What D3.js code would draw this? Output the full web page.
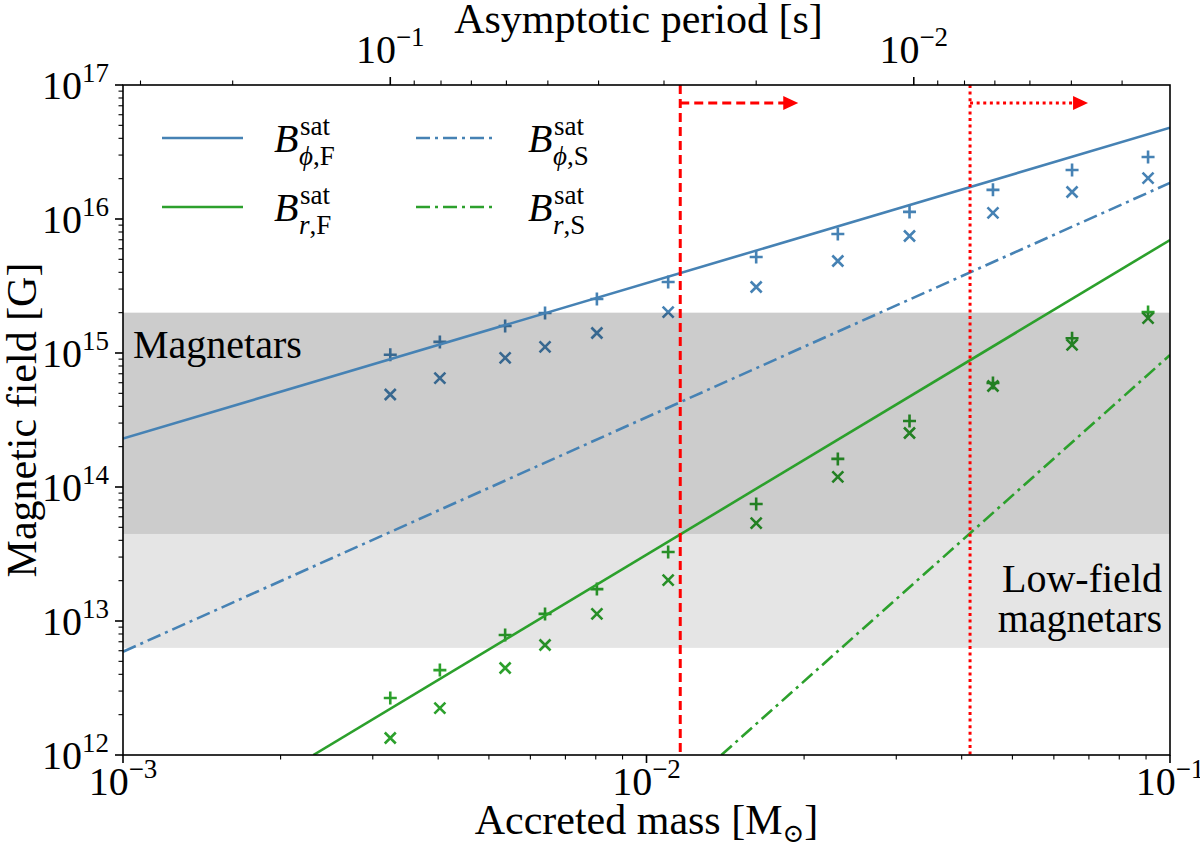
<!DOCTYPE html>
<html><head><meta charset="utf-8">
<script src="https://cdn.jsdelivr.net/npm/d3@7"></script>
<style>
body{margin:0;background:#fff}
svg{display:block}
</style>
</head><body><svg id="chart" width="1200" height="849"></svg>
<script>
// ---------------- data ----------------
const accretedMass = [0.00324,0.00403,0.00537,0.0064,0.00804,0.011,0.0162,0.0232,0.0318,0.0459,0.065,0.0908];
const bPhiPlus  = [9.7e14,1.21e15,1.59e15,1.99e15,2.53e15,3.39e15,5.2e15,7.73e15,1.13e16,1.65e16,2.32e16,2.9e16];
const bPhiCross = [4.9e14,6.5e14,9.2e14,1.11e15,1.41e15,2.02e15,3.11e15,4.86e15,7.47e15,1.11e16,1.59e16,2.02e16];
const bRPlus    = [2.66e12,4.3e12,7.87e12,1.13e13,1.73e13,3.27e13,7.46e13,1.62e14,3.11e14,5.97e14,1.29e15,2.02e15];
const bRCross   = [1.34e12,2.24e12,4.46e12,6.62e12,1.13e13,2.02e13,5.38e13,1.19e14,2.53e14,5.67e14,1.15e15,1.82e15];

// saturation lines: [mass, field] end points
const linePhiF = [[1e-3,2.3e14],[1e-1,4.8e16]];
const linePhiS = [[1e-3,5.9e12],[1e-1,1.86e16]];
const lineRF   = [[2.31e-3,1e12],[1e-1,6.97e15]];
const lineRS   = [[1.39e-2,1e12],[1e-1,9.66e14]];

// shaded bands [low, high]
const magnetarBand = [4.46e13, 2e15];
const lowFieldBand = [6.3e12, 4.46e13];

// threshold masses (dashed, dotted)
const thresholdMass = [0.0116, 0.0415];

// axes
const massDomain = [1e-3, 1e-1];
const fieldDomain = [1e12, 1e17];
const massMajor = [1e-3, 1e-2, 1e-1];
const massMajorExp = ["−3", "−2", "−1"];
const fieldMajor = [1e12, 1e13, 1e14, 1e15, 1e16, 1e17];
const fieldMajorExp = ["12", "13", "14", "15", "16", "17"];
const periodConst = 3.24e-4;      // P = periodConst / M
const periodMajor = [1e-1, 1e-2];
const periodMajorExp = ["−1", "−2"];

// legend
const legendEntries = [
  {sub:["ϕ",",F"], color:"#4682b4", dash:null},
  {sub:["r",",F"], color:"#2ca02c", dash:null},
  {sub:["ϕ",",S"], color:"#4682b4", dash:"14,5,3,5"},
  {sub:["r",",S"], color:"#2ca02c", dash:"14,5,3,5"}
];

// ---------------- layout ----------------
const L = 123, R = 1170, T = 85, B = 755;
const blue = "#4682b4", green = "#2ca02c", red = "#ff0000";
const FONT = "'Liberation Serif', 'Times New Roman', 'DejaVu Serif', serif";

const svg = d3.select("#chart").attr("font-family", FONT);
const x = d3.scaleLog().domain(massDomain).range([L, R]);
const y = d3.scaleLog().domain(fieldDomain).range([B, T]);
const xp = d3.scaleLog().domain([periodConst/massDomain[0], periodConst/massDomain[1]]).range([L, R]);

svg.append("defs").append("clipPath").attr("id","clip")
  .append("rect").attr("x",L).attr("y",T).attr("width",R-L).attr("height",B-T);

const plot = svg.append("g").attr("clip-path","url(#clip)");

// markers (drawn below bands)
const plusPath = "M-6.5,0H6.5M0,-6.5V6.5";
const crossPath = "M-5.5,-5.5L5.5,5.5M-5.5,5.5L5.5,-5.5";
function markers(vals, color, path){
  plot.append("g").selectAll("path").data(vals).join("path")
    .attr("transform",(d,i)=>`translate(${x(accretedMass[i])},${y(d)})`)
    .attr("d",path).attr("stroke",color).attr("stroke-width",2.6).attr("fill","none");
}
markers(bPhiPlus, blue, plusPath);
markers(bPhiCross, blue, crossPath);
markers(bRPlus, green, plusPath);
markers(bRCross, green, crossPath);

// bands (semi-transparent black over markers)
plot.append("rect").attr("x",L).attr("width",R-L)
  .attr("y",y(magnetarBand[1])).attr("height",y(magnetarBand[0])-y(magnetarBand[1]))
  .attr("fill","#000").attr("fill-opacity",0.2);
plot.append("rect").attr("x",L).attr("width",R-L)
  .attr("y",y(lowFieldBand[1])).attr("height",y(lowFieldBand[0])-y(lowFieldBand[1]))
  .attr("fill","#000").attr("fill-opacity",0.1);

// lines
const lineGen = d3.line().x(d=>x(d[0])).y(d=>y(d[1]));
function drawLine(data,color,dash){
  plot.append("path").datum(data).attr("d",lineGen).attr("fill","none")
    .attr("stroke",color).attr("stroke-width",2.6).attr("stroke-dasharray",dash);
}
drawLine(linePhiF, blue, null);
drawLine(linePhiS, blue, "14,5,3,5");
drawLine(lineRF, green, null);
drawLine(lineRS, green, "14,5,3,5");

// thresholds
const thrDash = ["9,5", "3,3.6"];
thresholdMass.forEach((m,i)=>{
  const xv = x(m);
  plot.append("line").attr("x1",xv).attr("x2",xv).attr("y1",T).attr("y2",B)
    .attr("stroke",red).attr("stroke-width",3).attr("stroke-dasharray",thrDash[i]);
  const ay = 103, tip = xv + 118;
  svg.append("line").attr("x1",xv).attr("x2",tip-13).attr("y1",ay).attr("y2",ay)
    .attr("stroke",red).attr("stroke-width",3).attr("stroke-dasharray",thrDash[i]);
  svg.append("path").attr("d",`M${tip},${ay}L${tip-15},${ay-7}L${tip-15},${ay+7}Z`).attr("fill",red);
});

// band labels
svg.append("text").attr("x",133).attr("y",358).attr("font-size",40).text("Magnetars");
svg.append("text").attr("x",1162).attr("y",592).attr("font-size",40).attr("text-anchor","end").text("Low-field");
svg.append("text").attr("x",1162).attr("y",632).attr("font-size",40).attr("text-anchor","end").text("magnetars");

// frame
svg.append("rect").attr("x",L).attr("y",T).attr("width",R-L).attr("height",B-T)
  .attr("fill","none").attr("stroke","#000").attr("stroke-width",1.6);

// ticks
function minorTicks(lo, hi){
  const out=[];
  for(let e=Math.floor(Math.log10(lo))-1; e<=Math.ceil(Math.log10(hi)); e++){
    for(let k=2;k<=9;k++){ const v=k*Math.pow(10,e); if(v>lo*1.0001 && v<hi*0.9999) out.push(v); }
  }
  return out;
}
const tk = svg.append("g").attr("stroke","#000");
massMajor.forEach(v=>tk.append("line").attr("x1",x(v)).attr("x2",x(v)).attr("y1",B).attr("y2",B+8).attr("stroke-width",1.6));
minorTicks(massDomain[0],massDomain[1]).forEach(v=>tk.append("line").attr("x1",x(v)).attr("x2",x(v)).attr("y1",B).attr("y2",B+4.5).attr("stroke-width",1.1));
fieldMajor.forEach(v=>tk.append("line").attr("x1",L-8).attr("x2",L).attr("y1",y(v)).attr("y2",y(v)).attr("stroke-width",1.6));
minorTicks(fieldDomain[0],fieldDomain[1]).forEach(v=>tk.append("line").attr("x1",L-4.5).attr("x2",L).attr("y1",y(v)).attr("y2",y(v)).attr("stroke-width",1.1));
const pLo = periodConst/massDomain[1], pHi = periodConst/massDomain[0];
periodMajor.forEach(v=>tk.append("line").attr("x1",xp(v)).attr("x2",xp(v)).attr("y1",T).attr("y2",T-8).attr("stroke-width",1.6));
minorTicks(pLo,pHi).forEach(v=>tk.append("line").attr("x1",xp(v)).attr("x2",xp(v)).attr("y1",T).attr("y2",T-4.5).attr("stroke-width",1.1));

// tick labels
function powLabel(g, px, py, exp, anchor){
  const t = g.append("text").attr("x",px).attr("y",py).attr("text-anchor",anchor).attr("font-size",40);
  t.append("tspan").text("10");
  t.append("tspan").attr("font-size",27).attr("dy",-17).text(exp);
  return t;
}
massMajor.forEach((v,i)=>powLabel(svg, x(v), 795, massMajorExp[i], "middle"));
fieldMajor.forEach((v,i)=>powLabel(svg, 109, y(v)+14, fieldMajorExp[i], "end"));
periodMajor.forEach((v,i)=>powLabel(svg, xp(v), 63, periodMajorExp[i], "middle"));

// axis titles
const xl = svg.append("text").attr("x",(L+R)/2).attr("y",834).attr("text-anchor","middle").attr("font-size",42);
xl.append("tspan").text("Accreted mass [M");
xl.append("tspan").attr("font-size",26).attr("dy",8).attr("font-family","'DejaVu Serif', serif").text("⊙");
xl.append("tspan").attr("dy",-8).text("]");
svg.append("text").attr("x",(L+R)/2 - 8).attr("y",33).attr("text-anchor","middle").attr("font-size",42).text("Asymptotic period [s]");
svg.append("text").attr("transform",`translate(36,${(T+B)/2}) rotate(-90)`).attr("text-anchor","middle").attr("font-size",42).text("Magnetic field [G]");

// legend
const legPos = [[162,138],[162,207],[416,138],[416,207]];
legendEntries.forEach((e,i)=>{
  const [lx,ly] = legPos[i];
  svg.append("line").attr("x1",lx).attr("x2",lx+81).attr("y1",ly).attr("y2",ly)
    .attr("stroke",e.color).attr("stroke-width",2.6).attr("stroke-dasharray",e.dash);
  const tx = lx + 112, ty = ly + 14;
  svg.append("text").attr("x",tx).attr("y",ty).attr("font-size",40).attr("font-style","italic").text("B");
  svg.append("text").attr("x",tx+26).attr("y",ty-17).attr("font-size",27).text("sat");
  const s = svg.append("text").attr("x",tx+25).attr("y",ty+13).attr("font-size",27);
  s.append("tspan").attr("font-style","italic").text(e.sub[0]);
  s.append("tspan").text(e.sub[1]);
});
</script>
</body></html>
